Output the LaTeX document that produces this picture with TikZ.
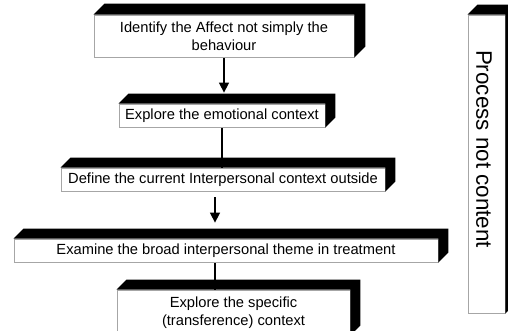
\documentclass[tikz,border=0pt]{standalone}
\usepackage{fontspec}
\setmainfont{Liberation Sans}
\usetikzlibrary{calc,arrows.meta,backgrounds}
\tikzset{
  slab/.style={draw=gray!70, line width=0.8bp, fill=white, inner sep=0pt, align=center,
    font=\fontsize{14.7bp}{18bp}\selectfont, anchor=center},
  arr/.style={line width=1.5bp, -{Triangle[length=10bp,width=10bp]}},
  conn/.style={line width=1.5bp},
  face/.style={fill=black}
}
\newcommand\slabfaces[2][10]{%
  \fill[face] (#2.north west) -- ++(#1,#1) -- ($(#2.north east)+(#1,#1)$)
    -- ($(#2.south east)+(#1,#1)$) -- (#2.south east) -- (#2.north east) -- cycle;}
\begin{document}
\begin{tikzpicture}[x=1bp,y=1bp]
\useasboundingbox (0,0) rectangle (508,330);
\clip (0,0) rectangle (508,330);
\node[slab, minimum width=260bp, minimum height=42bp] (b1) at (224,294)
  {Identify the Affect not simply the\\behaviour};
\slabfaces[11]{b1}
\node[slab, minimum width=206bp, minimum height=23bp] (b2) at (222,214.5)
  {Explore the emotional context};
\slabfaces{b2}
\node[slab, minimum width=324bp, minimum height=23bp] (b3) at (223,150.5)
  {Define the current Interpersonal context outside};
\slabfaces{b3}
\node[slab, minimum width=424bp, minimum height=23bp] (b4) at (226,79.5)
  {Examine the broad interpersonal theme in treatment};
\slabfaces{b4}
\node[slab, minimum width=233bp, minimum height=45bp] (b5) at (233.5,17.5)
  {Explore the specific\\(transference) context};
\slabfaces{b5}
\node[slab, minimum width=37bp, minimum height=298bp] (rb) at (486.5,166) {};
\slabfaces{rb}
\node[rotate=-90, font=\fontsize{22.4bp}{26bp}\selectfont, inner sep=0pt] (pt) at (484,181)
  {Process not content};
\coordinate (a3) at ($(b3.south)+(-8,-6)$);
\coordinate (a4) at ($(b4.south)+(-11,0)$);
\begin{scope}[on background layer]
\draw[arr, shorten >=11bp] (b1.south) -- (b1.south |- b2.north);
\draw[conn] (b2.south) -- (b2.south |- b3.north);
\draw[arr, shorten >=16bp] (a3) -- (a3 |- b4.north);
\draw[conn] (a4) -- (a4 |- b5.north);
\end{scope}
\end{tikzpicture}
\end{document}
